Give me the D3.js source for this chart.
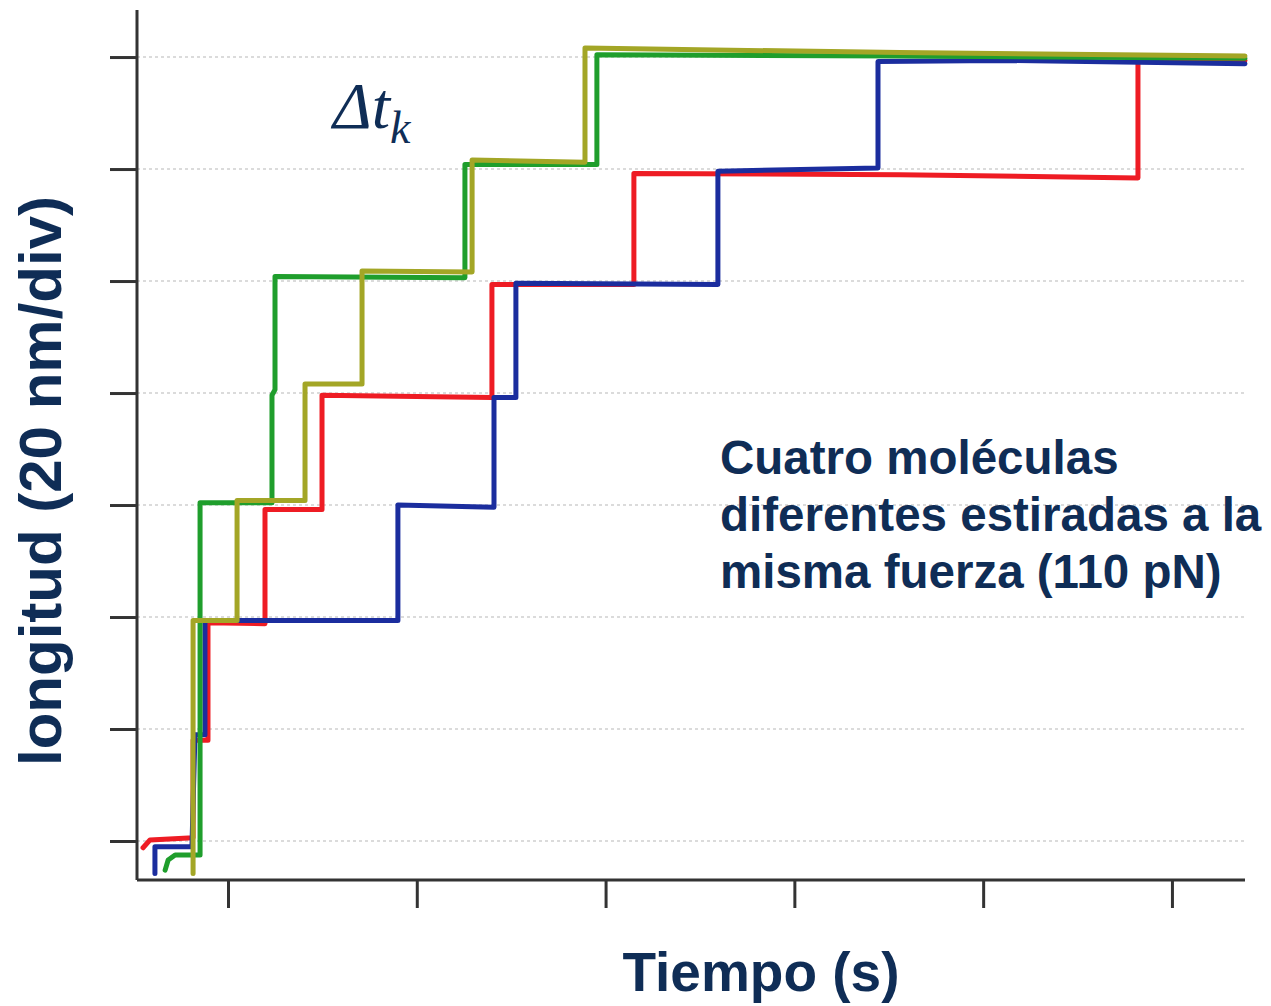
<!DOCTYPE html>
<html>
<head>
<meta charset="utf-8">
<script src="https://cdn.jsdelivr.net/npm/d3@7"></script>
<style>
  html, body { margin: 0; padding: 0; background: #ffffff; }
  svg { display: block; }
</style>
</head>
<body>
<svg id="chart" width="1271" height="1006"></svg>
<script>
// ---- data (time in s-divisions, length in 20 nm divisions) ----
const xTicks = [1, 2, 3, 4, 5, 6];
const yTicks = [0, 1, 2, 3, 4, 5, 6, 7];

const redTrace = [
  [0.550, -0.06], [0.587, 0.01], [0.815, 0.03], [0.815, 0.90], [0.894, 0.90],
  [0.894, 1.95], [1.196, 1.94], [1.196, 2.96], [1.498, 2.96], [1.498, 3.98],
  [2.398, 3.96], [2.398, 4.97], [3.150, 4.97], [3.150, 5.96], [4.559, 5.95],
  [5.820, 5.92], [5.820, 6.96], [6.387, 6.97]
];
const blueTrace = [
  [0.613, -0.29], [0.613, -0.05], [0.809, -0.05], [0.825, 0.95], [0.878, 0.95],
  [0.878, 1.97], [1.900, 1.97], [1.900, 3.00], [2.409, 2.98], [2.409, 3.96],
  [2.525, 3.96], [2.525, 4.98], [3.595, 4.97], [3.595, 5.98], [4.443, 6.01],
  [4.443, 6.96], [5.089, 6.97], [6.387, 6.94]
];
const greenTrace = [
  [0.667, -0.26], [0.683, -0.17], [0.720, -0.125], [0.852, -0.125], [0.852, 3.02],
  [1.233, 3.02], [1.233, 3.98], [1.249, 4.03], [1.249, 5.04], [2.255, 5.03],
  [2.255, 6.04], [2.954, 6.04], [2.954, 7.02], [4.559, 7.01], [6.387, 6.99]
];
const oliveTrace = [
  [0.815, -0.29], [0.815, 1.97], [1.048, 1.97], [1.048, 3.04], [1.408, 3.04],
  [1.408, 4.08], [1.710, 4.08], [1.710, 5.09], [2.293, 5.08], [2.293, 6.08],
  [2.891, 6.06], [2.891, 7.08], [4.559, 7.04], [6.387, 7.01]
];
const seriesNames = ["red", "blue", "green", "olive"];
const seriesData = [redTrace, blueTrace, greenTrace, oliveTrace];
const seriesColors = ["#ee1c24", "#1b2d9e", "#1f9e2c", "#a3a626"];

const xLabel = "Tiempo (s)";
const yLabel = "longitud (20 nm/div)";
const noteLines = ["Cuatro moléculas", "diferentes estiradas a la", "misma fuerza (110 pN)"];

// ---- layout ----
const svg = d3.select("#chart");
const navy = "#0f2d56";
const x = d3.scaleLinear().domain([0.518, 6.387]).range([137, 1245]);
const y = d3.scaleLinear().domain([-0.348, 7.42]).range([880, 10]);

// gridlines
svg.append("g").selectAll("line").data(yTicks).join("line")
  .attr("x1", x(0.518)).attr("x2", x(6.387))
  .attr("y1", d => y(d)).attr("y2", d => y(d))
  .attr("stroke", "#cfcfcf").attr("stroke-width", 1.5)
  .attr("stroke-dasharray", "3,3");

// traces
const line = d3.line().x(d => x(d[0])).y(d => y(d[1]));
svg.append("g").selectAll("path").data(seriesData).join("path")
  .attr("d", d => line(d))
  .attr("fill", "none")
  .attr("stroke", (d, i) => seriesColors[i])
  .attr("stroke-width", 5)
  .attr("stroke-linejoin", "round")
  .attr("stroke-linecap", "round");

// axes
const xAxis = d3.axisBottom(x).tickValues(xTicks).tickSize(28).tickFormat("");
const yAxis = d3.axisLeft(y).tickValues(yTicks).tickSize(27).tickFormat("");
const gx = svg.append("g").attr("transform", `translate(0,${y(-0.348)})`).call(xAxis);
const gy = svg.append("g").attr("transform", `translate(${x(0.518)},0)`).call(yAxis);
[gx, gy].forEach(g => {
  g.select(".domain").attr("stroke", "#333").attr("stroke-width", 3);
  g.selectAll(".tick line").attr("stroke", "#333").attr("stroke-width", 3);
});
gx.select(".domain").attr("d", `M${x(0.518)},0H${x(6.387)}`);
gy.select(".domain").attr("d", `M0,${y(7.42)}V${y(-0.348)}`);

// axis labels
svg.append("text")
  .attr("x", 761).attr("y", 991)
  .attr("text-anchor", "middle")
  .attr("font-family", "Liberation Sans, Arial, sans-serif")
  .attr("font-weight", "bold").attr("font-size", 55)
  .attr("fill", navy).text(xLabel);

svg.append("text")
  .attr("transform", "translate(61,481) rotate(-90)")
  .attr("text-anchor", "middle")
  .attr("font-family", "Liberation Sans, Arial, sans-serif")
  .attr("font-weight", "bold").attr("font-size", 60)
  .attr("fill", navy).text(yLabel);

// annotation
svg.append("g").selectAll("text").data(noteLines).join("text")
  .attr("x", 720).attr("y", (d, i) => 474 + i * 57)
  .attr("font-family", "Liberation Sans, Arial, sans-serif")
  .attr("font-weight", "bold").attr("font-size", 47.5)
  .attr("fill", navy).text(d => d);

// Δt_k
const dt = svg.append("text")
  .attr("x", 333).attr("y", 128)
  .attr("font-family", "Liberation Serif, Times New Roman, serif")
  .attr("font-style", "italic").attr("font-size", 66)
  .attr("fill", navy);
dt.append("tspan").text("Δt");
dt.append("tspan").attr("font-size", 46).attr("dy", 15).text("k");
</script>
</body>
</html>
